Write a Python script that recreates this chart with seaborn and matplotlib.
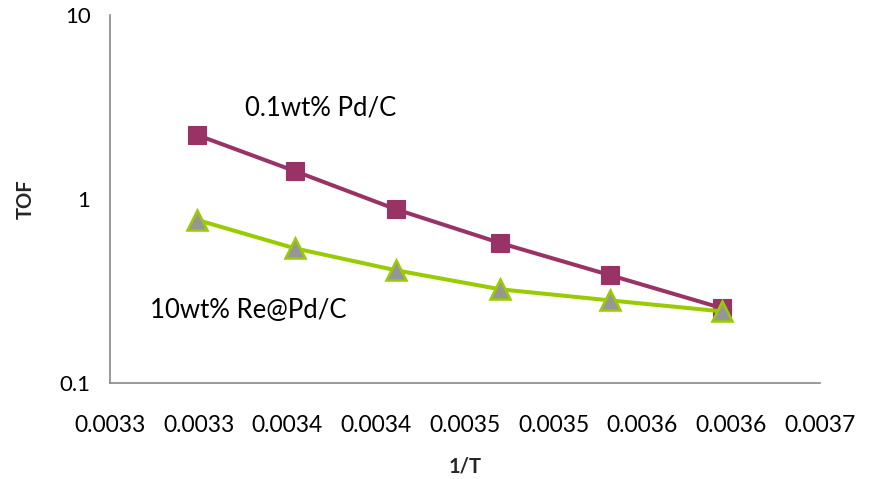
import matplotlib
matplotlib.use("Agg")
import matplotlib.pyplot as plt
import matplotlib.ticker as mticker
import seaborn as sns
import pandas as pd
from decimal import Decimal, ROUND_HALF_UP

# Inverse temperature (1/K) and turnover frequencies
inv_T = [0.003299, 0.003354, 0.003411, 0.003470, 0.003532, 0.003595]
tof_pd = [2.23, 1.42, 0.88, 0.576, 0.385, 0.255]
tof_re_pd = [0.77, 0.54, 0.41, 0.323, 0.281, 0.245]

label_pd = "0.1wt% Pd/C"
label_re_pd = "10wt% Re@Pd/C"

sns.set_theme(style="white")
plt.rcParams["font.family"] = ["Lato", "DejaVu Sans"]

df = pd.DataFrame({
    "inv_T": inv_T * 2,
    "TOF": tof_pd + tof_re_pd,
    "catalyst": [label_pd] * len(inv_T) + [label_re_pd] * len(inv_T),
})

fig = plt.figure(figsize=(8.7, 4.79), dpi=100)
ax = fig.add_axes([0.1264, 0.2004, 0.816, 0.7683])

sns.lineplot(data=df[df.catalyst == label_pd], x="inv_T", y="TOF", ax=ax,
             color="#993366", linewidth=2.9, marker="s", markersize=13.5,
             markerfacecolor="#993366", markeredgecolor="#993366",
             markeredgewidth=0.8, legend=False)
sns.lineplot(data=df[df.catalyst == label_re_pd], x="inv_T", y="TOF", ax=ax,
             color="#99CC00", linewidth=2.9, marker="^", markersize=15,
             markerfacecolor="#969696", markeredgecolor="#99CC00",
             markeredgewidth=1.8, legend=False)

ax.set_yscale("log")
ax.set_ylim(0.1, 10)
ax.set_xlim(0.00325, 0.00365)

ax.yaxis.set_major_locator(mticker.FixedLocator([0.1, 1, 10]))
ax.yaxis.set_major_formatter(mticker.FuncFormatter(lambda v, p: f"{v:g}"))
ax.yaxis.set_minor_locator(mticker.NullLocator())

ax.xaxis.set_major_locator(mticker.MultipleLocator(0.00005))


def fmt_x(v, pos):
    d = Decimal(f"{v:.8f}").quantize(Decimal("0.0001"), rounding=ROUND_HALF_UP)
    return str(d)


ax.xaxis.set_major_formatter(mticker.FuncFormatter(fmt_x))

for side in ("top", "right"):
    ax.spines[side].set_visible(False)
for side in ("left", "bottom"):
    ax.spines[side].set_color("#888888")
    ax.spines[side].set_linewidth(1.2)

ax.tick_params(axis="x", which="major", direction="in", length=8, width=1,
               color="#888888", labelsize=16.5, pad=23, labelcolor="black")
ax.tick_params(axis="y", which="major", direction="out", length=8, width=1,
               color="#888888", labelsize=16, pad=6, labelcolor="black")

ax.set_xlabel("1/T", fontsize=14.5, fontweight="bold", labelpad=15)
ax.set_ylabel("TOF", fontsize=14.5, fontweight="bold", labelpad=17)

ax.text(0.003326, 3.13, label_pd, fontsize=18.5, ha="left", va="center", color="black")
ax.text(0.0032725, 0.248, label_re_pd, fontsize=18.5, ha="left", va="center", color="black")

fig.savefig("out.png", dpi=100)
